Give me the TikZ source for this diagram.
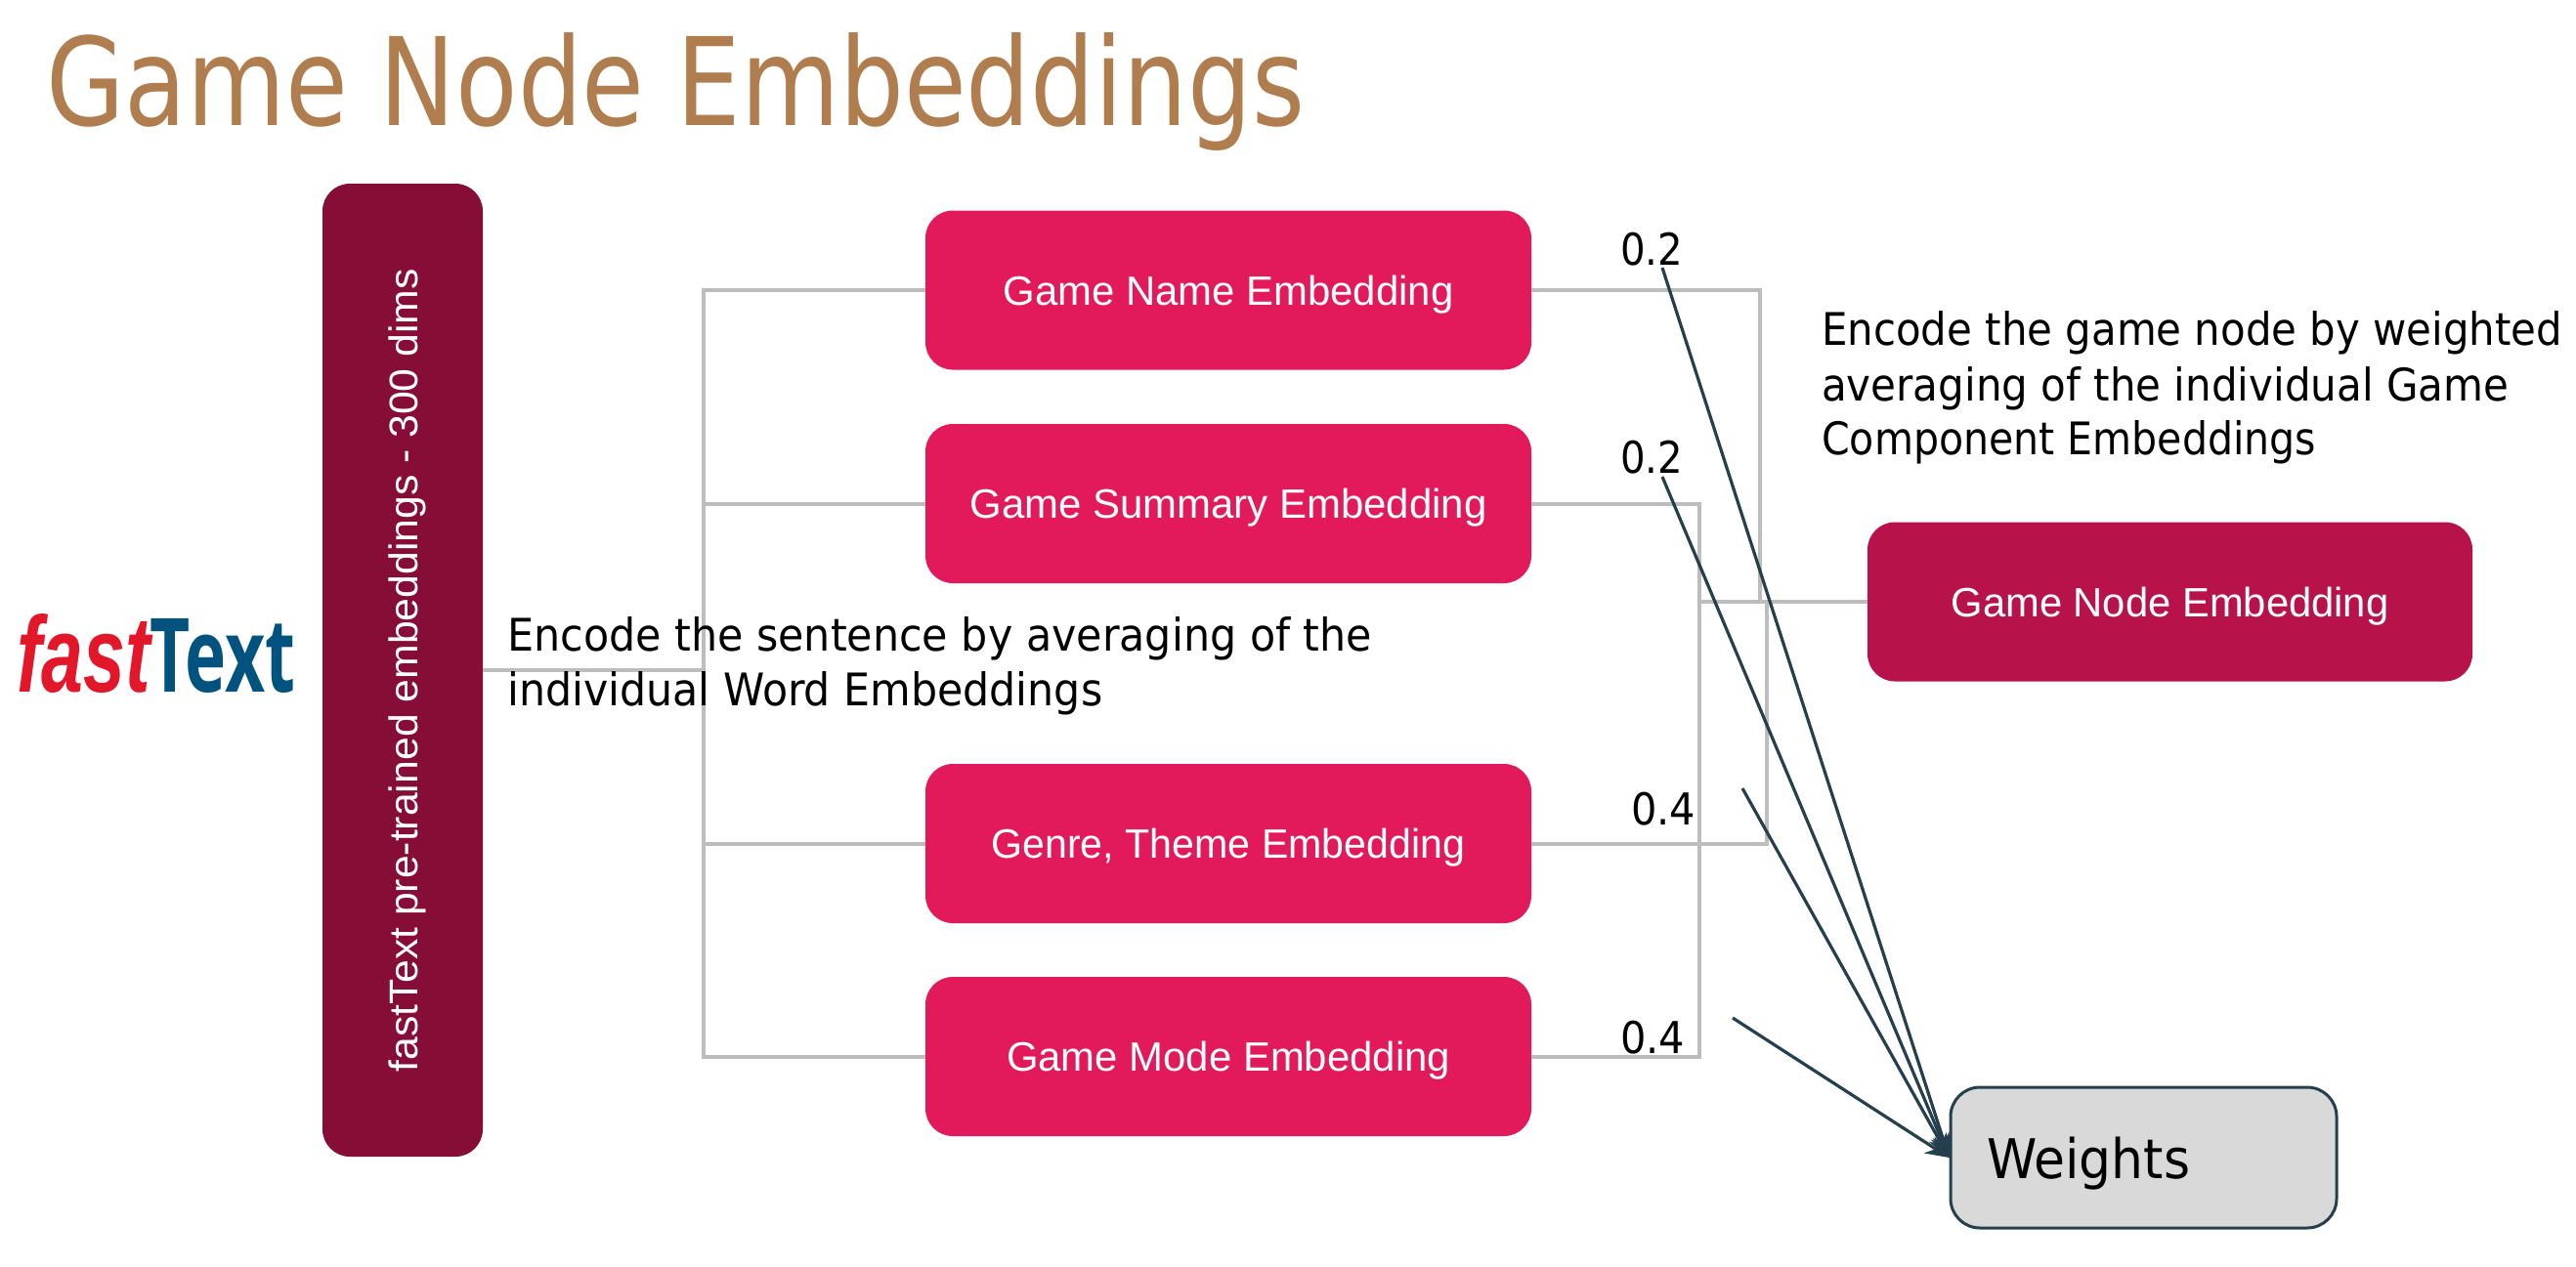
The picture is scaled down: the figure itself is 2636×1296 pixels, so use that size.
\documentclass[tikz,border=0pt]{standalone}
\usepackage{fontspec}
\usepackage{graphicx}
\setmainfont{Liberation Sans}
\newfontfamily\handfont{DejaVu Sans}
\newfontfamily\logofont{Open Sans}
\definecolor{barcol}{HTML}{850D36}
\definecolor{boxcol}{HTML}{E2195B}
\definecolor{nodecol}{HTML}{B7134A}
\definecolor{titlecol}{HTML}{B07D4F}
\definecolor{greyline}{HTML}{BDBDBD}
\definecolor{darkline}{HTML}{263F4D}
\definecolor{weightfill}{HTML}{D9D9D9}
\definecolor{logored}{HTML}{E3172A}
\definecolor{logoblue}{HTML}{00537F}
\newcommand{\fitw}[2]{\resizebox{#1pt}{\height}{#2}}
\tikzset{
  x=1pt,y=-1pt,
  embbox/.style={draw=none,fill=boxcol,rounded corners=28pt,minimum width=620pt,minimum height=163pt,inner sep=0pt,text=white,text height=30pt,text depth=0pt,font=\fontsize{42}{50}\selectfont},
  conn/.style={draw=greyline,line width=4pt},
  wline/.style={draw=darkline,line width=3.2pt,-{Stealth[length=24pt,width=20pt]}},
  hand/.style={anchor=base west,inner sep=0pt,text=black,font=\handfont\fontsize{46}{55}\selectfont},
  wlabel/.style={anchor=base west,inner sep=0pt,text=black,font=\handfont\fontsize{45}{54}\selectfont},
}
\usetikzlibrary{arrows.meta}
\begin{document}
\begin{tikzpicture}
\useasboundingbox (0,0) rectangle (2636,1296);
% nodes
\node[anchor=base west,inner sep=0pt,text=titlecol,font=\handfont\fontsize{125}{150}\selectfont] (title) at (47,128) {\fitw{1288}{Game Node Embeddings}};
\node[fill=barcol,rounded corners=28pt,minimum width=164pt,minimum height=996pt,inner sep=0pt] (bar) at (412,686) {};
\node[rotate=90,inner sep=0pt,text=white,text height=30pt,text depth=0pt,font=\fontsize{41}{50}\selectfont] (bartext) at (bar.center) {\fitw{822}{fastText pre-trained embeddings - 300 dims}};
\node[embbox] (g1) at (1257,297) {\fitw{461}{Game Name Embedding}};
\node[embbox] (g2) at (1257,515.5) {\fitw{529}{Game Summary Embedding}};
\node[embbox] (g3) at (1257,863.5) {\fitw{485}{Genre, Theme Embedding}};
\node[embbox] (g4) at (1257,1081.5) {\fitw{454}{Game Mode Embedding}};
\node[embbox,fill=nodecol,minimum width=619pt] (gn) at (2220.5,616) {\fitw{448}{Game Node Embedding}};
\node[draw=darkline,line width=3pt,fill=weightfill,rounded corners=30pt,minimum width=395pt,minimum height=144pt,inner sep=0pt] (w) at (2193.5,1185) {};
\node[anchor=base west,inner sep=0pt,text=black,font=\handfont\fontsize{56}{60}\selectfont] (wtext) at (2033,1206) {\fitw{208}{Weights}};
% logo
\node[anchor=base west,inner sep=0pt,text=logored,font=\bfseries\itshape] (logofast) at (17,708) {\resizebox{137pt}{80pt}{fast}};
\node[anchor=base west,inner sep=0pt,text=logoblue,font=\logofont\bfseries] (logotext) at (153,708) {\resizebox{149pt}{75pt}{Text}};
% coordinates
\coordinate (trunk) at (720,686);
\coordinate (j1) at (1801,616);
\coordinate (j2) at (1739,616);
\coordinate (j3) at (1808,616);
\coordinate (s1) at (1701,274);
\coordinate (s2) at (1701,488);
\coordinate (s3) at (1783,807);
\coordinate (s4) at (1773,1042);
% grey connectors
\draw[conn] (bar.east) -- (trunk);
\draw[conn] (g1.west) -| (trunk);
\draw[conn] (g2.west) -| (trunk);
\draw[conn] (g3.west) -| (trunk);
\draw[conn] (g4.west) -| (trunk);
\draw[conn] (g1.east) -| (j1);
\draw[conn] (g2.east) -| (j2);
\draw[conn] (g3.east) -| (j3);
\draw[conn] (g4.east) -| (j2);
\draw[conn] (j2) -- (gn.west);
% texts over the lines
\node[hand] (t1a) at (519,666) {\fitw{885}{Encode the sentence by averaging of the}};
\node[hand] (t1b) at (519,722) {\fitw{609}{individual Word Embeddings}};
\node[hand] (t2a) at (1864,353) {\fitw{758}{Encode the game node by weighted}};
\node[hand] (t2b) at (1864,410) {\fitw{703}{averaging of the individual Game}};
\node[hand] (t2c) at (1864,465) {\fitw{506}{Component Embeddings}};
\node[wlabel] (l1) at (1658,271) {\fitw{64}{0.2}};
\node[wlabel] (l2) at (1658,484) {\fitw{64}{0.2}};
\node[wlabel] (l3) at (1669,844) {\fitw{66}{0.4}};
\node[wlabel] (l4) at (1658,1078) {\fitw{66}{0.4}};
% weight arrows
\draw[wline] (s1) -- (w.west);
\draw[wline] (s2) -- (w.west);
\draw[wline] (s3) -- (w.west);
\draw[wline] (s4) -- (w.west);
\end{tikzpicture}
\end{document}
